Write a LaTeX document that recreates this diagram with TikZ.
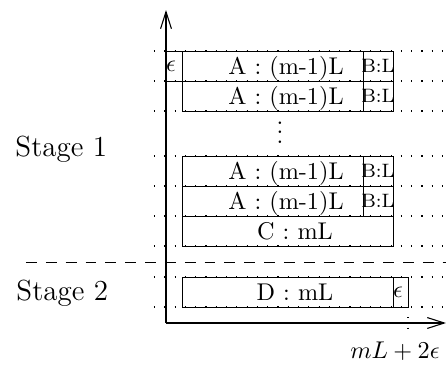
\documentclass[tikz,border=0pt]{standalone}
\usetikzlibrary{arrows.meta}
\begin{document}
\begin{tikzpicture}[x=0.4132pt,y=-0.4132pt,
  box/.style={draw,line width=0.4pt},
  guide/.style={dash pattern=on 0.45pt off 3.8pt,line width=0.5pt},
  sep/.style={dash pattern=on 4.5pt off 3.7pt,line width=0.45pt},
  lbl/.style={inner sep=0pt,anchor=base},
  stagelbl/.style={font=\large,inner sep=0pt,anchor=base west},
  blbl/.style={font=\footnotesize,inner sep=0pt,anchor=base},
  axis/.style={line width=0.45pt,-{Straight Barb[length=7pt,width=4.5pt]}}
]
\useasboundingbox (0,0) rectangle (446,374);
% guide lines
\foreach \y in {51,81,111,156,186,216,246,277,307}
  \draw[guide] (154,\y) -- (446,\y);
% stage separator
\coordinate (sepL) at (26,262.5);
\coordinate (sepR) at (446,262.5);
\draw[sep] (sepL) -- (sepR);
% axes
\coordinate (O) at (166,323);
\coordinate (Ytip) at (166,10);
\coordinate (Xtip) at (446,323);
\draw[axis] (O) -- (Ytip);
\draw[axis] (O) -- (Xtip);
% boxes
\draw[box] (166,51) rectangle (182,81);
\foreach \t in {51,81,156,186}{
  \draw[box] (182,\t) rectangle (363,\t+30);
  \draw[box] (363,\t) rectangle (393,\t+30);
}
\draw[box] (182,216) rectangle (393,246);
\draw[box] (182,277) rectangle (393,307);
\draw[box] (393,277) rectangle (408,307);
\coordinate (tickT) at (408,307);
\coordinate (tickB) at (408,336);
\draw[guide] (tickT) -- (tickB);
% labels
\node[lbl] (e1) at (171,71) {$\epsilon$};
\node[lbl] (a1) at (286,74) {A : (m-1)L};
\node[lbl] (a2) at (286,104) {A : (m-1)L};
\node[lbl] (a3) at (286,179) {A : (m-1)L};
\node[lbl] (a4) at (286,209) {A : (m-1)L};
\node[blbl] (b1) at (378,72.5) {B:L};
\node[blbl] (b2) at (378,102.5) {B:L};
\node[blbl] (b3) at (378,177.5) {B:L};
\node[blbl] (b4) at (378,207.5) {B:L};
\node[lbl] (vd) at (280,143.5) {$\vdots$};
\node[lbl] (c) at (295,239) {C : mL};
\node[lbl] (d) at (295,300) {D : mL};
\node[lbl] (e2) at (398,297) {$\epsilon$};
\node[lbl] (xl) at (395,358) {$mL+2\epsilon$};
\node[stagelbl] (s1) at (15,156) {Stage 1};
\node[stagelbl] (s2) at (16,300) {Stage 2};
\end{tikzpicture}
\end{document}
